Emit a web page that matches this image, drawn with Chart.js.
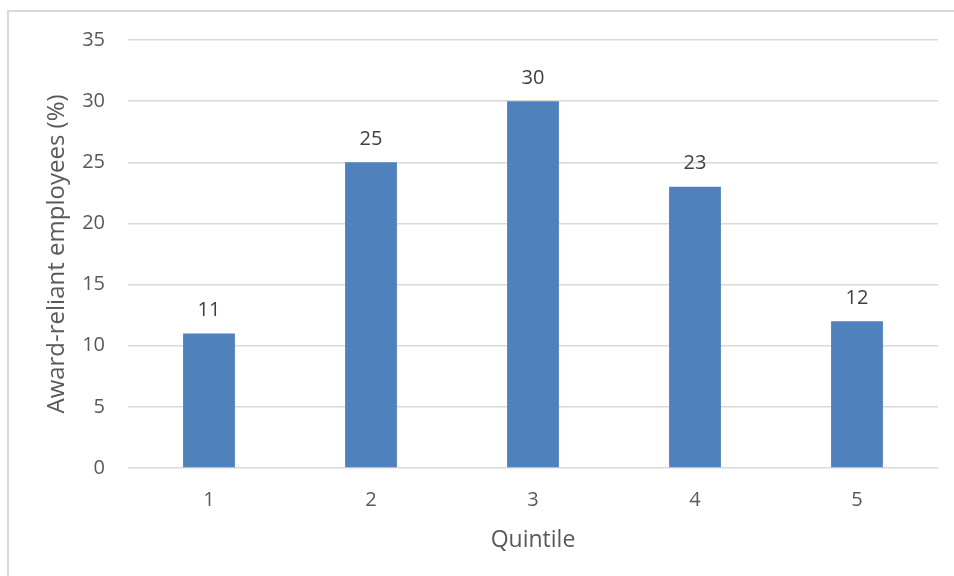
<!DOCTYPE html>
<html>
<head>
<meta charset="utf-8">
<script src="https://cdn.jsdelivr.net/npm/chart.js@4/dist/chart.umd.min.js"></script>
<style>
  html, body { margin: 0; padding: 0; background: #ffffff; }
  #wrap { position: relative; width: 954px; height: 576px; overflow: hidden; }
  #frame { position: absolute; left: 7px; top: 10px; width: 1000px; height: 700px;
           border: 2px solid #d9d9d9; box-sizing: border-box; }
  canvas { position: absolute; left: 0; top: 0; }
</style>
</head>
<body>
<div id="wrap">
  <div id="frame"></div>
  <canvas id="chart" width="954" height="576"></canvas>
</div>
<script>
// Share of award-reliant employees by quintile
const quintiles = ['1', '2', '3', '4', '5'];
const awardReliantPct = [11, 25, 30, 23, 12];
const yTicks = [0, 5, 10, 15, 20, 25, 30, 35];

const FONT = '"Open Sans", "Noto Sans", sans-serif';
const TEXT = '#595959';

// Writes each bar's value just above its top
const valueLabels = {
  id: 'valueLabels',
  afterDatasetsDraw(chart) {
    const ctx = chart.ctx;
    const meta = chart.getDatasetMeta(0);
    ctx.save();
    ctx.font = '20px ' + FONT;
    ctx.fillStyle = '#404040';
    ctx.textAlign = 'center';
    ctx.textBaseline = 'middle';
    meta.data.forEach((bar, i) => {
      ctx.fillText(String(chart.data.datasets[0].data[i]), bar.x, bar.y - 23);
    });
    ctx.restore();
  }
};

new Chart(document.getElementById('chart'), {
  type: 'bar',
  data: {
    labels: quintiles,
    datasets: [{
      data: awardReliantPct,
      backgroundColor: '#4f81bd',
      borderWidth: 0,
      barPercentage: 0.32,
      categoryPercentage: 1.0
    }]
  },
  options: {
    responsive: false,
    animation: false,
    devicePixelRatio: 1,
    layout: { padding: { left: 0, right: 16, top: 40, bottom: 0 } },
    plugins: {
      legend: { display: false },
      tooltip: { enabled: false }
    },
    scales: {
      x: {
        grid: { display: false, drawTicks: false },
        border: { display: false },
        ticks: { color: TEXT, font: { family: FONT, size: 20 }, padding: 20 },
        title: {
          display: true, text: 'Quintile', color: TEXT,
          font: { family: FONT, size: 23 }, padding: { top: 0, bottom: 22 }
        },
        afterFit(s) { s.height = 108; }
      },
      y: {
        min: 0, max: 35,
        afterBuildTicks(s) { s.ticks = yTicks.map(v => ({ value: v })); },
        grid: { color: '#d9d9d9', lineWidth: 1.5, drawTicks: false },
        border: { display: false },
        ticks: { color: TEXT, font: { family: FONT, size: 20 }, padding: 23 },
        title: {
          display: true, text: 'Award-reliant employees (%)', color: TEXT,
          font: { family: FONT, size: 24 }, padding: { top: 43, bottom: 0 }
        },
        afterFit(s) { s.width = 128; }
      }
    }
  },
  plugins: [valueLabels]
});
</script>
</body>
</html>
